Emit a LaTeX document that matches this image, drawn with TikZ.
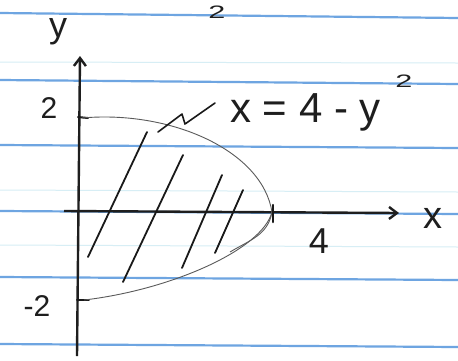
\documentclass[tikz,border=0pt]{standalone}
\usepackage{fontspec}
\setmainfont{Liberation Sans}
\usetikzlibrary{arrows.meta}
\begin{document}
\begin{tikzpicture}[x=1pt,y=-1pt,
  rule/.style={draw={rgb,255:red,110;green,165;blue,225},line width=2.2pt},
  faint/.style={draw={rgb,255:red,215;green,238;blue,245},line width=1pt},
  axis/.style={draw={rgb,255:red,30;green,30;blue,30},line width=2.4pt,-{Straight Barb[length=8pt,width=12pt]}},
  curve/.style={draw={rgb,255:red,90;green,90;blue,90},line width=0.9pt},
  hatch/.style={draw={rgb,255:red,25;green,25;blue,25},line width=1.8pt,line cap=round},
  lbl/.style={text={rgb,255:red,30;green,30;blue,30},inner sep=0pt,font=\fontsize{30}{30}\selectfont}]
\useasboundingbox (0,0) rectangle (458,360);
\fill[white] (0,0) rectangle (458,360);
% ruled paper
\draw[faint] (0,62) -- (458,63);
\draw[faint] (0,190) -- (458,192);
\draw[faint] (0,245) -- (458,247);
\draw[rule] (0,13) -- (458,18);
\draw[rule] (0,80) -- (458,84);
\draw[rule] (0,145) -- (458,148);
\draw[rule] (0,211) -- (458,214);
\draw[rule] (0,277) -- (458,280);
\draw[rule] (0,344) -- (458,347);
% axes
\coordinate (ybot) at (77,356);
\coordinate (ytop) at (80,56);
\coordinate (xl) at (64,211);
\coordinate (xr) at (399,213);
\draw[axis] (ybot) -- (ytop);
\draw[axis] (xl) -- (xr);
% ticks
\coordinate (t2a) at (78,117); \coordinate (t2b) at (88,118);
\coordinate (tm2a) at (77,300); \coordinate (tm2b) at (89,300);
\draw[hatch,line width=2pt] (t2a) -- (t2b);
\draw[hatch,line width=2pt] (tm2a) -- (tm2b);
% parabola
\coordinate (ptop) at (82,118);
\coordinate (pv) at (272,212);
\coordinate (pbot) at (84,300);
\draw[curve] (ptop) .. controls (170,110) and (262,150) .. (pv);
\draw[curve] (pv) .. controls (262,250) and (170,290) .. (pbot);
\draw[curve] (pv) .. controls (268,235) and (250,240) .. (230,252);
\draw[hatch,line width=2.5pt] (273,205) -- (273,222);
% hatch
\coordinate (h1a) at (147,132); \coordinate (h1b) at (88,257);
\coordinate (h2a) at (183,155); \coordinate (h2b) at (123,282);
\coordinate (h3a) at (222,175); \coordinate (h3b) at (182,268);
\coordinate (h4a) at (243,190); \coordinate (h4b) at (215,253);
\draw[hatch] (h1a) -- (h1b);
\draw[hatch] (h2a) -- (h2b);
\draw[hatch] (h3a) -- (h3b);
\draw[hatch] (h4a) -- (h4b);
% zigzag pointer
\coordinate (z0) at (215,103);
\coordinate (z1) at (185,124);
\coordinate (z2) at (182,114);
\coordinate (z3) at (158,132);
\draw[hatch,line width=1.6pt,line join=round] (z0) -- (z1) -- (z2) -- (z3);
% labels
\node[lbl,font=\fontsize{36}{36}\selectfont] (ylab) at (58,32) {y};
\node[lbl,font=\fontsize{38}{38}\selectfont] (xlab) at (433,218) {x};
\node[lbl] (two) at (49,108) {2};
\node[lbl] (mtwo) at (37,306) {-2};
\node[lbl,font=\fontsize{36}{36}\selectfont] (four) at (319,241) {4};
\node[lbl,font=\fontsize{18}{18}\selectfont,xscale=1.7] (stray) at (217,12) {2};
\node[lbl,anchor=base west,font=\fontsize{42}{42}\selectfont] (eq) at (230,122) {x = 4 - y};
\node[lbl,font=\fontsize{18}{18}\selectfont,xscale=1.7] (sq) at (404,81) {2};
\end{tikzpicture}
\end{document}
